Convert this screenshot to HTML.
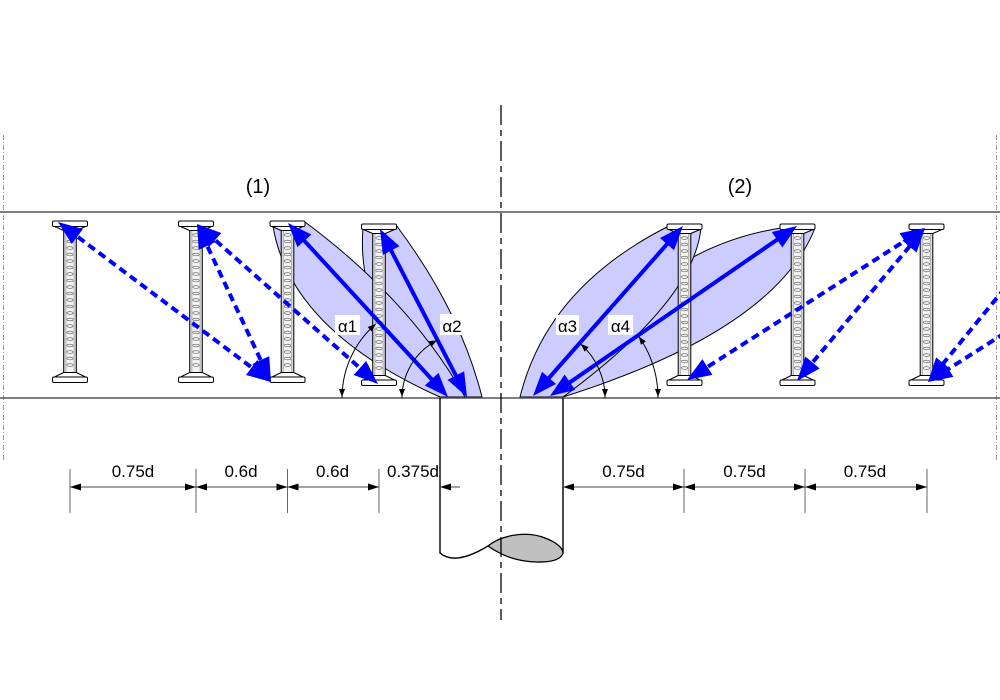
<!DOCTYPE html>
<html>
<head>
<meta charset="utf-8">
<style>
html,body{margin:0;padding:0;background:#fff;}
svg{display:block;}
</style>
</head>
<body>
<svg width="1000" height="700" viewBox="0 0 1000 700" xmlns="http://www.w3.org/2000/svg" font-family="'Liberation Sans', Arial, sans-serif">
<defs>
  <g id="stud">
    <rect x="-6.3" y="9.5" width="12.6" height="142" fill="#d9d9d9" stroke="#000" stroke-width="1"/>
    <rect x="-4" y="9.5" width="8" height="142" fill="#f4f4f4" stroke="#888" stroke-width="0.5"/>
    <g fill="none" stroke="#555" stroke-width="0.6">
      <ellipse cx="0" cy="14" rx="3.2" ry="1.3"/><ellipse cx="0" cy="20.5" rx="3.2" ry="1.3"/>
      <ellipse cx="0" cy="27" rx="3.2" ry="1.3"/><ellipse cx="0" cy="33.5" rx="3.2" ry="1.3"/>
      <ellipse cx="0" cy="40" rx="3.2" ry="1.3"/><ellipse cx="0" cy="46.5" rx="3.2" ry="1.3"/>
      <ellipse cx="0" cy="53" rx="3.2" ry="1.3"/><ellipse cx="0" cy="59.5" rx="3.2" ry="1.3"/>
      <ellipse cx="0" cy="66" rx="3.2" ry="1.3"/><ellipse cx="0" cy="72.5" rx="3.2" ry="1.3"/>
      <ellipse cx="0" cy="79" rx="3.2" ry="1.3"/><ellipse cx="0" cy="85.5" rx="3.2" ry="1.3"/>
      <ellipse cx="0" cy="92" rx="3.2" ry="1.3"/><ellipse cx="0" cy="98.5" rx="3.2" ry="1.3"/>
      <ellipse cx="0" cy="105" rx="3.2" ry="1.3"/><ellipse cx="0" cy="111.5" rx="3.2" ry="1.3"/>
      <ellipse cx="0" cy="118" rx="3.2" ry="1.3"/><ellipse cx="0" cy="124.5" rx="3.2" ry="1.3"/>
      <ellipse cx="0" cy="131" rx="3.2" ry="1.3"/><ellipse cx="0" cy="137.5" rx="3.2" ry="1.3"/>
      <ellipse cx="0" cy="144" rx="3.2" ry="1.3"/>
    </g>
    <polygon points="-15.5,5.5 15.5,5.5 6.3,9.5 -6.3,9.5" fill="#fff" stroke="#000" stroke-width="1" stroke-linejoin="round"/>
    <rect x="-17.5" y="0" width="35" height="5.5" rx="1.5" fill="#fff" stroke="#000" stroke-width="1"/>
    <polygon points="-6.3,151.5 6.3,151.5 15.5,156 -15.5,156" fill="#fff" stroke="#000" stroke-width="1" stroke-linejoin="round"/>
    <rect x="-17.5" y="156" width="35" height="5.5" rx="1.5" fill="#fff" stroke="#000" stroke-width="1"/>
  </g>
</defs>

<rect x="0" y="0" width="1000" height="700" fill="#fff"/>

<!-- edge dash-dot lines -->
<line x1="3.5" y1="135" x2="3.5" y2="462" stroke="#9a9a9a" stroke-width="1" stroke-dasharray="5 2 1 2"/>
<line x1="996.5" y1="135" x2="996.5" y2="462" stroke="#9a9a9a" stroke-width="1" stroke-dasharray="5 2 1 2"/>

<!-- lenses -->
<g fill="#ccccff" stroke="#000" stroke-width="1" stroke-linejoin="round">
  <path d="M363,228 L396,225 Q460,310 482,397 L455,397 Q355,330 363,228 Z"/>
  <path d="M273,226 L305,222 Q410,300 465,397 L440,397 Q290,330 273,226 Z"/>
  <path d="M781,228 L815,228 Q775,330 563,397 Q640,250 781,228 Z"/>
  <path d="M667,227 L701,227 Q695,300 563,397 L520,397 Q547,288 667,227 Z"/>
</g>

<!-- slab lines -->
<line x1="0" y1="212" x2="1000" y2="212" stroke="#555" stroke-width="1.6"/>
<line x1="0" y1="398" x2="1000" y2="398" stroke="#555" stroke-width="1.6"/>

<!-- studs -->
<use href="#stud" transform="translate(70,221)"/>
<use href="#stud" transform="translate(196,221)"/>
<use href="#stud" transform="translate(287.5,221)"/>
<use href="#stud" transform="translate(379,224)"/>
<use href="#stud" transform="translate(684.5,224)"/>
<use href="#stud" transform="translate(797.5,224)"/>
<use href="#stud" transform="translate(926.5,224)"/>

<!-- pile -->
<g stroke="#000" stroke-width="1.4" fill="none">
  <line x1="440" y1="398" x2="440" y2="553.5"/>
  <line x1="563" y1="398" x2="563" y2="553.5"/>
  <path d="M440,553 Q455,566 488,546"/>
</g>
<path d="M488,546 C500,536 525,530 545,538 C556,542 563,548 563,553 C560,563 540,563 525,561 C510,559 498,553 488,546 Z" fill="#c0c0c0" stroke="#000" stroke-width="1.3"/>

<!-- center dash-dot line -->
<line x1="501" y1="105" x2="501" y2="620" stroke="#000" stroke-width="1.3" stroke-dasharray="20 5 6 5"/>

<!-- blue dashed arrows -->
<g stroke="#0000ff" stroke-width="4" fill="none" stroke-dasharray="8 5">
  <line x1="67.59" y1="229.21" x2="261.41" y2="374.79"/>
  <line x1="202.09" y1="234.87" x2="265.91" y2="371.13"/>
  <line x1="205.99" y1="231.95" x2="369.01" y2="376.05"/>
  <line x1="697.11" y1="373.54" x2="914.89" y2="234.46"/>
  <line x1="804.70" y1="371.80" x2="917.30" y2="237.20"/>
  <line x1="1005" y1="288" x2="935.60" y2="372.71"/>
  <line x1="1005" y1="333" x2="938.11" y2="375.54"/>
</g>
<!-- blue solid arrows -->
<g stroke="#0000ff" stroke-width="4" fill="none">
  <line x1="296.12" y1="231.83" x2="439.88" y2="388.17"/>
  <line x1="385.52" y1="239.66" x2="461.48" y2="386.34"/>
  <line x1="540.94" y1="387.00" x2="675.06" y2="235.00"/>
  <line x1="559.88" y1="389.20" x2="787.12" y2="232.80"/>
</g>
<!-- blue arrowheads -->
<g fill="#0000ff" stroke="none">
  <polygon points="271,382 246.0,375.0 257.25,360.0"/>
  <polygon points="58,222 71.75,244 82.97,229.04"/>
  <polygon points="271,382 252.3,364.07 269.24,356.15"/>
  <polygon points="197,224 198.76,249.85 215.7,241.93"/>
  <polygon points="378,384 353.69,374.98 366.12,361.01"/>
  <polygon points="197,224 208.99,246.99 221.31,233.02"/>
  <polygon points="448,397 424.79,385.56 438.54,372.91"/>
  <polygon points="288,223 297.46,247.09 311.32,234.44"/>
  <polygon points="467,397 447.53,379.84 464.14,371.26"/>
  <polygon points="380,229 382.86,254.85 399.47,246.16"/>
  <polygon points="683,226 673.98,250.31 660.01,237.99"/>
  <polygon points="533,396 555.99,384.01 542.02,371.69"/>
  <polygon points="797,226 782.37,247.45 771.81,232.05"/>
  <polygon points="550,396 575.19,389.95 564.63,374.55"/>
  <polygon points="925,228 909.6,248.9 899.59,233.17"/>
  <polygon points="687,380 712.41,374.83 702.4,359.1"/>
  <polygon points="925,228 916.64,252.53 902.34,240.54"/>
  <polygon points="797,381 819.66,368.46 805.36,356.47"/>
  <polygon points="928,382 936.14,357.36 950.55,369.24"/>
  <polygon points="928,382 943.4,361.1 953.41,376.83"/>
</g>

<!-- angle arcs -->
<g stroke="#000" stroke-width="1" fill="none">
  <path d="M342,398 A98,98 0 0 1 375.7,324"/>
  <path d="M402,398 A65,65 0 0 1 437.1,340.3"/>
  <path d="M605,398 A72,72 0 0 0 580.7,344"/>
  <path d="M658,398 A108,108 0 0 0 638.8,336.5"/>
</g>
<g fill="#000">
  <polygon points="342,397 339,389 345,389"/>
  <polygon points="375.7,324 371.7,331.5 367.7,327.0"/>
  <polygon points="402,397 399,389 405,389"/>
  <polygon points="437.1,340.3 431.4,346.7 428.6,341.3"/>
  <polygon points="605,397 602,389 608,389"/>
  <polygon points="580.7,344 588.7,347.0 584.7,351.6"/>
  <polygon points="658,397 655,389 661,389"/>
  <polygon points="638.8,336.5 645.9,341.4 640.9,344.8"/>
</g>

<!-- alpha labels -->
<g fill="#fff">
  <rect x="335" y="315" width="25" height="20"/>
  <rect x="440" y="314" width="24" height="21"/>
  <rect x="556" y="315" width="23" height="20"/>
  <rect x="608" y="315" width="25" height="20"/>
</g>
<g font-size="17" fill="#000" text-anchor="middle">
  <text x="347.5" y="332">α1</text>
  <text x="452" y="332">α2</text>
  <text x="567.5" y="332">α3</text>
  <text x="620.5" y="332">α4</text>
</g>

<!-- dimension extension lines -->
<g stroke="#666" stroke-width="1">
  <line x1="70" y1="469" x2="70" y2="513"/>
  <line x1="196" y1="469" x2="196" y2="513"/>
  <line x1="287.5" y1="469" x2="287.5" y2="513"/>
  <line x1="379" y1="469" x2="379" y2="513"/>
  <line x1="684" y1="469" x2="684" y2="513"/>
  <line x1="805" y1="469" x2="805" y2="513"/>
  <line x1="927" y1="469" x2="927" y2="513"/>
</g>
<!-- dimension lines -->
<g stroke="#444" stroke-width="1">
  <line x1="70" y1="487" x2="379" y2="487"/>
  <line x1="440" y1="487" x2="460" y2="487"/>
  <line x1="563" y1="487" x2="927" y2="487"/>
</g>
<g fill="#000">
  <polygon points="70,487 81,483.5 81,490.5"/>
  <polygon points="196,487 185,483.5 185,490.5"/>
  <polygon points="196,487 207,483.5 207,490.5"/>
  <polygon points="287.5,487 276.5,483.5 276.5,490.5"/>
  <polygon points="287.5,487 298.5,483.5 298.5,490.5"/>
  <polygon points="379,487 368,483.5 368,490.5"/>
  <polygon points="440,487 451,483.5 451,490.5"/>
  <polygon points="563,487 574,483.5 574,490.5"/>
  <polygon points="684,487 673,483.5 673,490.5"/>
  <polygon points="684,487 695,483.5 695,490.5"/>
  <polygon points="805,487 794,483.5 794,490.5"/>
  <polygon points="805,487 816,483.5 816,490.5"/>
  <polygon points="927,487 916,483.5 916,490.5"/>
</g>
<g font-size="17" fill="#000" text-anchor="middle">
  <text x="133" y="477">0.75d</text>
  <text x="241" y="477">0.6d</text>
  <text x="332.5" y="477">0.6d</text>
  <text x="439" y="477" text-anchor="end">0.375d</text>
  <text x="623.5" y="477">0.75d</text>
  <text x="744.5" y="477">0.75d</text>
  <text x="865" y="477">0.75d</text>
</g>

<!-- section titles -->
<g font-size="20" fill="#000" text-anchor="middle">
  <text x="258" y="193">(1)</text>
  <text x="740" y="193">(2)</text>
</g>
</svg>
</body>
</html>
